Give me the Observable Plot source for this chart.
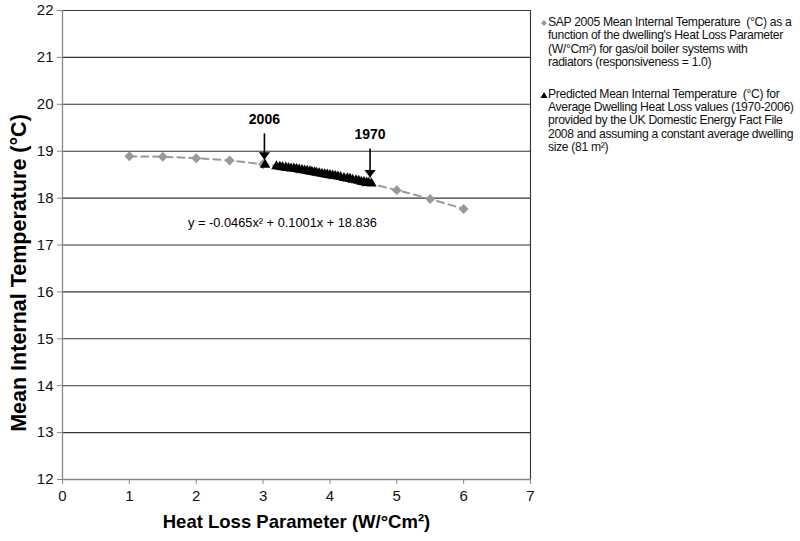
<!DOCTYPE html>
<html><head><meta charset="utf-8">
<script src="https://cdn.jsdelivr.net/npm/d3@7"></script>
<script src="https://cdn.jsdelivr.net/npm/@observablehq/plot@0.6"></script>
<style>
body{margin:0;background:#fff;font-family:"Liberation Sans",Arial,sans-serif;}
#wrap{position:relative;width:800px;height:541px;overflow:hidden;}
#chart{position:absolute;left:0;top:0;}
#legend{position:absolute;left:540px;top:16px;width:258px;font-size:12.2px;line-height:13.4px;color:#111;white-space:nowrap;letter-spacing:-0.35px;}
.item{position:relative;padding-left:8px;margin-bottom:18px;}
.mk{position:absolute;left:0;top:3px;}
</style></head>
<body><div id="wrap"><div id="chart"></div>
<div id="legend">
<div class="item"><svg class="mk" width="8" height="8"><path d="M4,1L7,4L4,7L1,4Z" fill="#999"/></svg>SAP 2005 Mean Internal Temperature&nbsp; (°C) as a<br>function of the dwelling's Heat Loss Parameter<br>(W/°Cm²) for gas/oil boiler systems with<br>radiators (responsiveness = 1.0)</div>
<div class="item"><svg class="mk" width="8" height="8"><path d="M4,1L7.5,7H0.5Z" fill="#000"/></svg>Predicted Mean Internal Temperature&nbsp; (°C) for<br>Average Dwelling Heat Loss values (1970-2006)<br>provided by the UK Domestic Energy Fact File<br>2008 and assuming a constant average dwelling<br>size (81 m²)</div>
</div></div>
<script>
// SAP 2005 curve points
const sapHLP = [1, 1.5, 2, 2.5, 3, 3.5, 4, 4.5, 5, 5.5, 6];
const sapTemp = [18.89, 18.88, 18.85, 18.80, 18.72, 18.62, 18.49, 18.34, 18.17, 17.98, 17.77];
// Predicted 1970-2006
const years = d3.range(1970, 2007);
const predHLP = [4.62,4.58,4.55,4.51,4.47,4.43,4.39,4.34,4.30,4.26,4.21,4.16,4.12,4.08,4.04,4.00,3.96,3.92,3.88,3.84,3.80,3.77,3.73,3.70,3.66,3.62,3.58,3.54,3.50,3.46,3.42,3.38,3.34,3.29,3.25,3.20,3.03];
const predTemp = [18.31,18.32,18.33,18.34,18.35,18.37,18.38,18.39,18.41,18.42,18.43,18.45,18.46,18.47,18.48,18.49,18.50,18.51,18.52,18.53,18.54,18.55,18.56,18.57,18.58,18.59,18.60,18.61,18.62,18.63,18.63,18.64,18.65,18.66,18.67,18.68,18.71];
const xTicks = [0,1,2,3,4,5,6,7];
const yTicks = [12,13,14,15,16,17,18,19,20,21,22];
const annLabels = ["2006", "1970"];
const annX = [3.02, 4.6];
const annTextY = [19.68, 19.35];
const annTop = [19.38, 19.06];
const annTip = [18.82, 18.44];
const equation = "y = -0.0465x² + 0.1001x + 18.836";

const sap = sapHLP.map((x,i)=>({x, y: sapTemp[i]}));
const pred = years.map((yr,i)=>({year: yr, x: predHLP[i], y: predTemp[i]}));
const ann = annLabels.map((t,i)=>({t, x: annX[i], ty: annTextY[i], y1: annTop[i], y2: annTip[i]}));

// downward-pointing triangle head, tip at the anchor point
const headDown = {draw(ctx, size) { const w = Math.sqrt(size) * 0.75, h = Math.sqrt(size) * 1.0;
  ctx.moveTo(0, 0); ctx.lineTo(-w, -h); ctx.lineTo(w, -h); ctx.closePath(); }};

const chart = Plot.plot({
  width: 540, height: 541,
  marginLeft: 62, marginRight: 10, marginTop: 10, marginBottom: 62,
  style: {fontFamily: "Liberation Sans, Arial, sans-serif", fontSize: "15px", color: "#111", background: "#fff"},
  x: {domain: [0, 7], ticks: xTicks, label: null},
  y: {domain: [12, 22], ticks: yTicks, label: null},
  marks: [
    Plot.ruleY(yTicks.filter(d=>d>12), {stroke: "#333", strokeWidth: 1.1}),
    Plot.ruleX([7], {stroke: "#333", strokeWidth: 1.1}),
    Plot.ruleX([0], {stroke: "#888", strokeWidth: 1.3}),
    Plot.ruleY([12], {stroke: "#888", strokeWidth: 1.3}),
    Plot.axisX({ticks: xTicks, tickFormat: "d", tickSize: 5, tickPadding: 6, stroke: "#888", fontSize: 15, fill: "#111"}),
    Plot.axisY({ticks: yTicks, tickFormat: "d", tickSize: 5, tickPadding: 4, stroke: "#888", fontSize: 15, fill: "#111"}),
    Plot.line(sap, {x: "x", y: "y", curve: "natural", stroke: "#999", strokeWidth: 2, strokeDasharray: "7,5"}),
    Plot.dot(sap, {x: "x", y: "y", symbol: "diamond2", r: 4.5, fill: "#999", stroke: "none"}),
    Plot.dot(pred, {x: "x", y: "y", symbol: "triangle2", r: 5, fill: "#000", stroke: "none"}),
    Plot.text(ann, {x: "x", y: "ty", text: "t", fontWeight: "bold", fontSize: 14, fill: "#000"}),
    Plot.link(ann, {x1: "x", y1: "y1", x2: "x", y2: "y2", stroke: "#000", strokeWidth: 1.6}),
    Plot.dot(ann, {x: "x", y: "y2", symbol: headDown, r: 4.2, fill: "#000", stroke: "none"}),
    Plot.text([equation], {x: 3.29, y: 17.48, text: d=>d, fontSize: 12.8, fill: "#000"}),
    Plot.text(["Heat Loss Parameter (W/°Cm²)"], {frameAnchor: "bottom", dy: 48, text: d=>d, fontWeight: "bold", fontSize: 18.5, fill: "#000"}),
    Plot.text(["Mean Internal Temperature (°C)"], {frameAnchor: "left", textAnchor: "middle", dx: -43, dy: 28, rotate: -90, text: d=>d, fontWeight: "bold", fontSize: 21.5, fill: "#000"})
  ]
});
document.getElementById("chart").appendChild(chart);
</script></body></html>
